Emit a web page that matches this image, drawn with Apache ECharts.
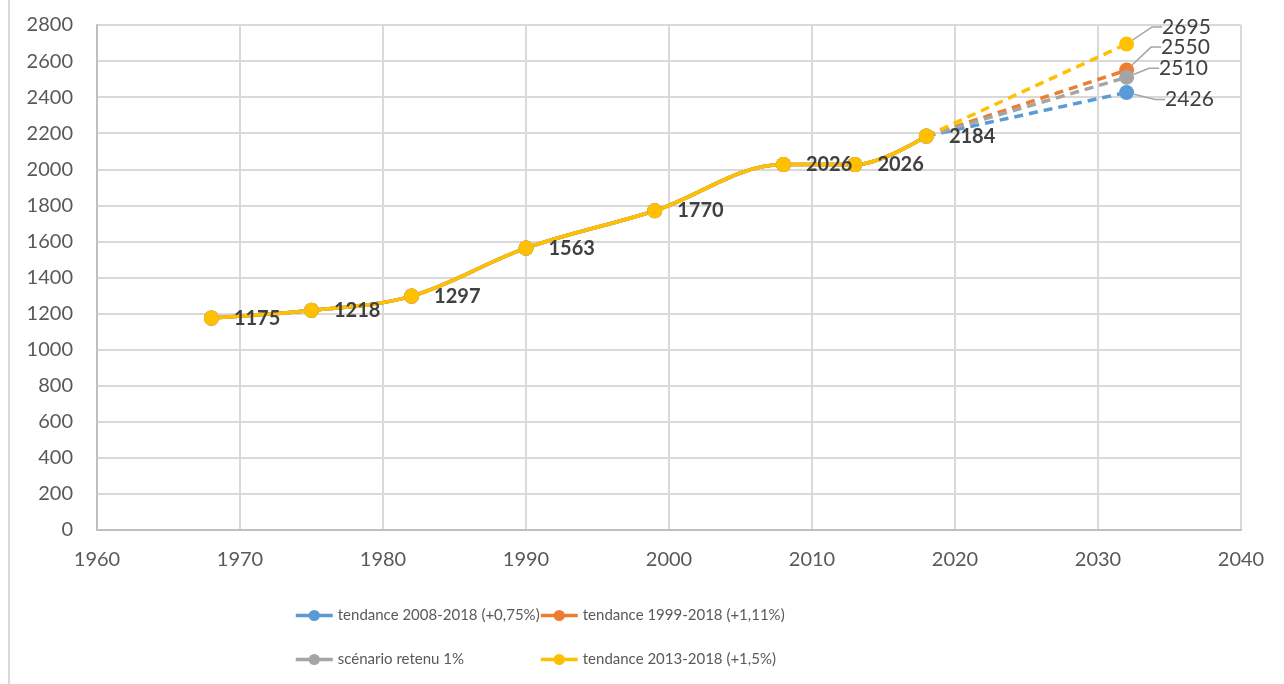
<!DOCTYPE html>
<html>
<head>
<meta charset="utf-8">
<script src="https://cdn.jsdelivr.net/npm/echarts@6/dist/echarts.min.js"></script>
<style>
  html, body { margin: 0; padding: 0; background: #fff; }
  #chart { width: 1284px; height: 684px; }
</style>
</head>
<body>
<div id="chart"></div>
<script>
// données historiques (communes aux 4 scénarios)
const years = [1968, 1975, 1982, 1990, 1999, 2008, 2013, 2018]
const population = [1175, 1218, 1297, 1563, 1770, 2026, 2026, 2184]

// projections 2032
const projYear = 2032
const scenarioNames = [
  'tendance 2008-2018 (+0,75%)',
  'tendance 1999-2018 (+1,11%)',
  'scénario retenu 1%',
  'tendance 2013-2018 (+1,5%)'
]
const projValues = [2426, 2550, 2510, 2695]
const colors = ['#5B9BD5', '#ED7D31', '#A5A5A5', '#FFC000']
// décalage des étiquettes 2032 (dx, dy)
const projLabelShift = [[19, 7], [15, -23], [13, -9], [16, -17]]

const chart = echarts.init(document.getElementById('chart'))
const font = 'Lato'

const histData = years.map((y, i) => [y, population[i]])

const solidSeries = scenarioNames.map((name, i) => ({
  name: name,
  type: 'line',
  smooth: 0.35,
  data: histData,
  symbol: 'circle',
  symbolSize: 15,
  color: colors[i],
  lineStyle: { width: 3.5, color: colors[i] },
  itemStyle: { color: colors[i] },
  label: {
    show: i === 3,
    position: 'right',
    distance: 15,
    fontFamily: font,
    fontSize: 20,
    fontWeight: 'bold',
    color: '#404040'
  },
  z: 3
}))

const dashSeries = scenarioNames.map((name, i) => ({
  name: name,
  type: 'line',
  data: [
    { value: [2018, population[population.length - 1]], symbol: 'none', label: { show: false } },
    { value: [projYear, projValues[i]] }
  ],
  symbol: 'circle',
  symbolSize: 15,
  color: colors[i],
  lineStyle: { width: 3.5, type: [9, 6], color: colors[i] },
  itemStyle: { color: colors[i] },
  label: {
    show: true,
    position: 'right',
    distance: 12,
    fontFamily: font,
    fontSize: 21,
    color: '#404040'
  },
  labelLayout: { dx: projLabelShift[i][0], dy: projLabelShift[i][1] },
  labelLine: { show: true, length2: 10, lineStyle: { color: '#A5A5A5', width: 1.5 } },
  z: 2
}))

// une légende par entrée pour garder l'alignement en colonnes
const legendPos = [[294, 608], [539, 608], [294, 652], [539, 652]]
const legends = scenarioNames.map((name, i) => ({
  orient: 'horizontal',
  left: legendPos[i][0],
  top: legendPos[i][1],
  padding: 0,
  data: [name],
  itemWidth: 37,
  itemHeight: 14,
  itemGap: 4,
  lineStyle: { width: 3.5 },
  textStyle: { fontFamily: font, fontSize: 15, color: '#595959' }
}))

const option = {
  animation: false,
  backgroundColor: '#fff',
  graphic: [{
    type: 'rect',
    shape: { x: 9, y: -5, width: 1300, height: 700 },
    style: { fill: 'none', stroke: '#D9D9D9', lineWidth: 2 },
    silent: true
  }],
  grid: { left: 97, right: 43, top: 25, bottom: 154 },
  legend: legends,
  xAxis: {
    type: 'value',
    min: 1960,
    max: 2040,
    interval: 10,
    axisLine: { show: true, lineStyle: { color: '#BFBFBF', width: 2 } },
    axisTick: { show: false },
    axisLabel: { fontFamily: font, fontSize: 20, color: '#595959', margin: 20, formatter: v => String(v) },
    splitLine: { show: true, lineStyle: { color: '#D9D9D9', width: 2 } }
  },
  yAxis: {
    type: 'value',
    min: 0,
    max: 2800,
    interval: 200,
    axisLine: { show: true, lineStyle: { color: '#BFBFBF', width: 2 } },
    axisTick: { show: false },
    axisLabel: { fontFamily: font, fontSize: 20, color: '#595959', margin: 24, formatter: v => String(v) },
    splitLine: { show: true, lineStyle: { color: '#D9D9D9', width: 2 } }
  },
  series: solidSeries.concat(dashSeries)
}

chart.setOption(option)
</script>
</body>
</html>
